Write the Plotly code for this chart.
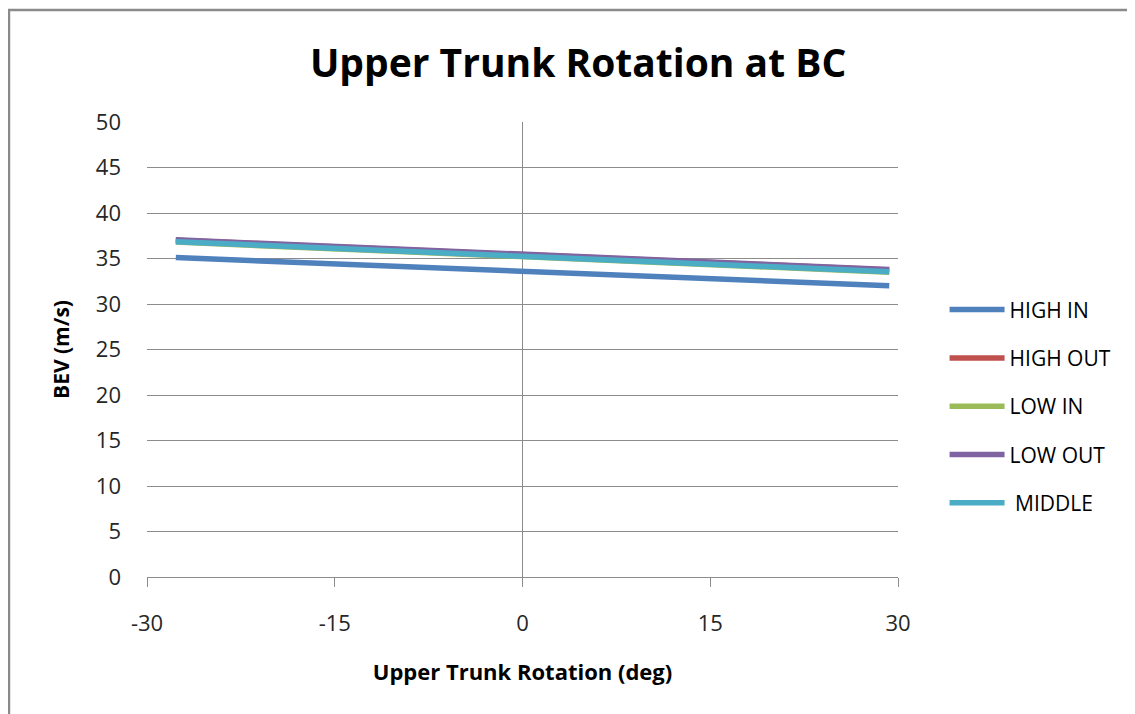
import plotly.graph_objects as go

# regression lines: start / end points
series = ["HIGH IN", "HIGH OUT", "LOW IN", "LOW OUT", " MIDDLE"]
x_start = -27.7
x_end = 29.3
high_in = [35.1, 32.0]
high_out = [37.0, 33.75]
low_in = [36.8, 33.5]
low_out = [37.05, 33.8]
middle = [36.85, 33.55]

x_ticks = [-30, -15, 0, 15, 30]
x_labels = ["-30", "-15", "0", "15", "30"]
y_ticks = [0, 5, 10, 15, 20, 25, 30, 35, 40, 45, 50]

colors = ["#4F81BD", "#C0504D", "#9BBB59", "#8064A2", "#4BACC6"]
font = "Open Sans"

fig = go.Figure()
for i, (name, vals) in enumerate(zip(series, [high_in, high_out, low_in, low_out, middle])):
    fig.add_trace(go.Scatter(
        x=[x_start, x_end], y=vals, mode="lines", name=name,
        legendgroup=str(i),
        line=dict(color=colors[i], width=5.5),
    ))

# page body adds 8px, so the figure is 8px smaller than the window
fig.update_layout(
    width=1127, height=706,
    margin=dict(l=139, r=237, t=114, b=137),
    paper_bgcolor="white", plot_bgcolor="white",
    font=dict(family=font, size=22, color="#262626"),
    title=dict(text="<b>Upper Trunk Rotation at BC</b>", x=0.574, xref="paper",
               xanchor="center", y=0.922, yanchor="middle",
               font=dict(size=39, color="black")),
    xaxis=dict(
        range=[-30, 30], tickvals=x_ticks, ticktext=x_labels, showgrid=False,
        zeroline=True, zerolinecolor="#8c8c8c", zerolinewidth=1,
        showline=True, linecolor="#8c8c8c", linewidth=1,
        ticks="outside", ticklen=9, tickcolor="#8c8c8c", ticklabelstandoff=18,
        title=dict(text="<b>Upper Trunk Rotation (deg)</b>", standoff=28,
                   font=dict(size=22, color="black")),
    ),
    yaxis=dict(
        range=[0, 50], tickvals=y_ticks, showgrid=True, gridcolor="#8c8c8c",
        zeroline=False, showline=False, ticks="", ticklabelstandoff=25,
        title=dict(text="<b>BEV (m/s)</b>", standoff=20,
                   font=dict(size=21, color="black")),
    ),
    legend=dict(x=1.062, xanchor="left", y=0.632, yanchor="top",
                tracegroupgap=18, itemwidth=55,
                font=dict(size=21, color="black")),
    shapes=[dict(type="rect", xref="paper", yref="paper",
                 x0=-0.1838, x1=1.33, y0=-0.32, y1=1.246,
                 line=dict(color="#8a8a8a", width=2.5), layer="below")],
)

fig.write_html("out.html")
